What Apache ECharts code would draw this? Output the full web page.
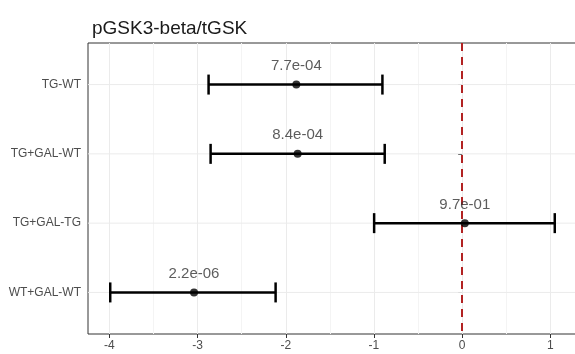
<!DOCTYPE html>
<html>
<head>
<meta charset="utf-8">
<script src="https://cdn.jsdelivr.net/npm/echarts@6/dist/echarts.min.js"></script>
<style>
  html, body { margin: 0; padding: 0; background: #fff; overflow: hidden; }
  #chart { width: 580px; height: 354px; }
</style>
</head>
<body>
<div id="chart"></div>
<script>
// Contrasts, estimates with confidence limits and p-values
const comparisons = ['TG-WT', 'TG+GAL-WT', 'TG+GAL-TG', 'WT+GAL-WT'];
const estimates  = [-1.88, -1.865, 0.03, -3.04];
const lowerCI    = [-2.875, -2.852, -0.998, -3.99];
const upperCI    = [-0.904, -0.878, 1.05, -2.115];
const pLabels    = ['7.7e-04', '8.4e-04', '9.7e-01', '2.2e-06'];
const xTicks     = [-4, -3, -2, -1, 0, 1];

const FONT = '"Liberation Sans", Arial, sans-serif';
const rowPos = comparisons.map((_, i) => i + 1);

const chart = echarts.init(document.getElementById('chart'), null, { renderer: 'canvas' });

const pointData = rowPos.map((r, i) => ({ value: [estimates[i], r], label: { formatter: pLabels[i] } }));
const barData = rowPos.map((r, i) => [lowerCI[i], upperCI[i], r]);

chart.setOption({
  animation: false,
  backgroundColor: '#fff',
  title: {
    text: 'pGSK3-beta/tGSK',
    left: 87, top: 14,
    textStyle: { fontFamily: FONT, fontSize: 19, fontWeight: 'normal', color: '#1a1a1a' }
  },
  grid: {
    left: 88, top: 43, width: 489, height: 291,
    outerBoundsMode: 'none', containLabel: false,
    show: true, borderColor: '#333', borderWidth: 1, backgroundColor: '#fff'
  },
  xAxis: {
    type: 'value', min: -4.242, max: 1.302,
    axisLine: { show: false },
    axisTick: { show: true, length: 4, lineStyle: { color: '#333' },
      customValues: xTicks },
    axisLabel: { customValues: xTicks, color: '#4d4d4d', fontFamily: FONT, fontSize: 12, margin: 6 },
    splitLine: { show: true, lineStyle: { color: '#ebebeb', width: 1 } },
    minorTick: { show: false, splitNumber: 2 },
    minorSplitLine: { show: true, lineStyle: { color: '#f4f4f4', width: 1 } }
  },
  yAxis: {
    type: 'value', min: 0.4, max: 4.6, inverse: true,
    axisLine: { show: false },
    axisTick: { show: true, length: 4, lineStyle: { color: '#333' }, customValues: rowPos },
    axisLabel: {
      customValues: rowPos, color: '#4d4d4d', fontFamily: FONT, fontSize: 12, margin: 7,
      formatter: v => comparisons[Math.round(v) - 1] || ''
    },
    splitLine: { show: false }
  },
  series: [
    {
      // horizontal grid lines through each comparison row
      type: 'custom',
      data: rowPos,
      encode: { y: 0 },
      silent: true,
      z: 1,
      renderItem: function (params, api) {
        const cs = params.coordSys;
        const y = api.coord([0, api.value(0)])[1];
        return {
          type: 'line',
          shape: { x1: cs.x, y1: y, x2: cs.x + cs.width, y2: y },
          style: { stroke: '#ebebeb', lineWidth: 1 }
        };
      }
    },
    {
      // confidence interval bars with end caps
      type: 'custom',
      data: barData,
      encode: { x: [0, 1], y: 2 },
      z: 5,
      renderItem: function (params, api) {
        const a = api.coord([api.value(0), api.value(2)]);
        const b = api.coord([api.value(1), api.value(2)]);
        const h = 10;
        const mk = (x1, y1, x2, y2) => ({
          type: 'line',
          shape: { x1, y1, x2, y2 },
          style: { stroke: '#000', lineWidth: 2.5, fill: null }
        });
        return {
          type: 'group',
          children: [
            mk(a[0], a[1], b[0], b[1]),
            mk(a[0], a[1] - h, a[0], a[1] + h),
            mk(b[0], b[1] - h, b[0], b[1] + h)
          ]
        };
      }
    },
    {
      type: 'scatter',
      data: pointData,
      symbolSize: 8,
      z: 6,
      itemStyle: { color: '#000' },
      label: {
        show: true, position: 'top', distance: 7,
        color: '#333', fontFamily: FONT, fontSize: 15
      },
      markLine: {
        silent: true, symbol: 'none', label: { show: false },
        lineStyle: { color: '#b22222', width: 2, type: [8, 6] },
        data: [{ xAxis: 0 }]
      }
    }
  ]
});
</script>
</body>
</html>
